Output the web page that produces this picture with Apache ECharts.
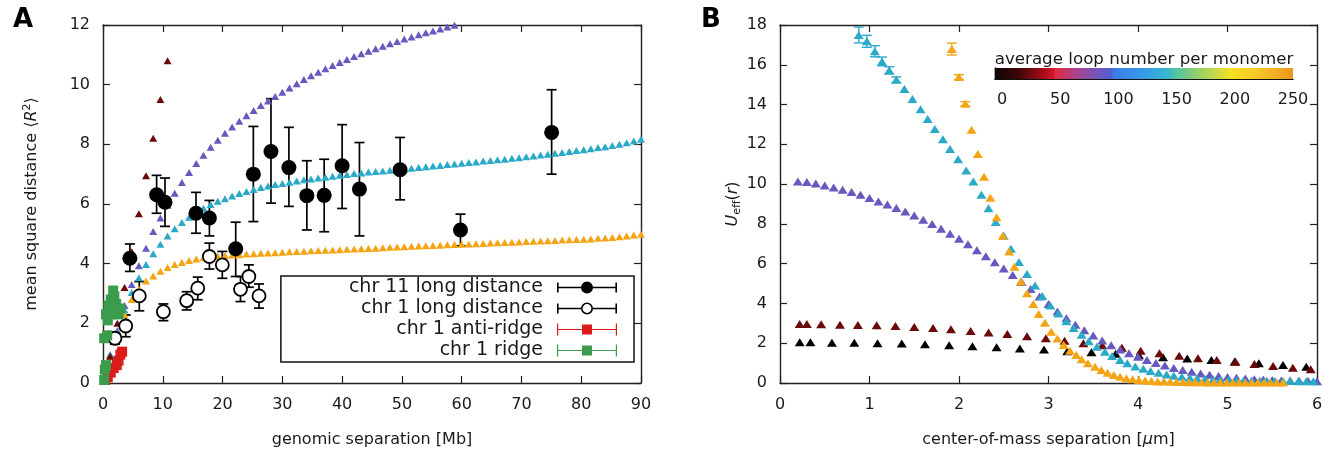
<!DOCTYPE html>
<html><head><meta charset="utf-8">
<script src="https://cdn.jsdelivr.net/npm/echarts@6.0.0/dist/echarts.min.js"></script>
<style>html,body{margin:0;padding:0;background:#fff}#c{width:1337px;height:450px}</style>
</head><body><div id="c"></div>
<script>
// ---------- Panel A: experimental data ----------
const chr11X  = [4.5, 8.97, 10.37, 15.56, 17.8, 22.2, 25.15, 28.1, 31.1, 34.1, 37.0, 40.0, 42.9, 49.7, 59.8, 75.05];
const chr11Y  = [4.18, 6.31, 6.06, 5.69, 5.53, 4.5, 7.0, 7.76, 7.22, 6.28, 6.29, 7.28, 6.5, 7.15, 5.13, 8.4];
const chr11Lo = [3.74, 5.69, 5.25, 5.02, 4.93, 3.57, 5.41, 6.03, 5.92, 5.13, 5.07, 5.85, 4.93, 6.14, 4.6, 7.0];
const chr11Hi = [4.66, 6.96, 6.87, 6.39, 6.12, 5.39, 8.6, 9.53, 8.57, 7.45, 7.5, 8.66, 8.06, 8.23, 5.66, 9.83];

const chr1X  = [2.0, 3.8, 6.07, 10.1, 14.0, 15.85, 17.8, 19.96, 23.0, 24.4, 26.1];
const chr1Y  = [1.5, 1.91, 2.92, 2.39, 2.76, 3.18, 4.24, 3.96, 3.14, 3.57, 2.92];
const chr1Lo = [1.3, 1.55, 2.42, 2.09, 2.45, 2.79, 3.82, 3.51, 2.73, 3.21, 2.51];
const chr1Hi = [1.7, 2.28, 3.4, 2.65, 3.06, 3.55, 4.69, 4.41, 3.57, 3.96, 3.32];

const antiRidgeX = [0.4, 0.8, 1.3, 1.8, 2.3, 2.6, 2.9, 3.2];
const antiRidgeY = [0.1, 0.2, 0.35, 0.5, 0.6, 0.75, 0.95, 1.05];

const ridgeX = [0.2, 0.3, 0.5, 0.2, 0.7, 0.5, 0.9, 1.3, 1.7, 1.9, 2.2, 2.6, 2.9, 1.5, 0.8, 1.1];
const ridgeY = [0.1, 0.45, 0.6, 1.5, 1.6, 2.3, 2.6, 2.8, 3.1, 2.9, 2.65, 2.3, 2.5, 2.3, 2.1, 2.45];

// ---------- Panel A: simulation (triangles) ----------
const simSepA = [1.2,2.4,3.6,4.8,6.0,7.2,8.4,9.6,10.8,12.0,13.2,14.4,15.6,16.8,18.0,19.2,20.4,21.6,22.8,24.0,25.2,26.4,27.6,28.8,30.0,31.2,32.4,33.6,34.8,36.0,37.2,38.4,39.6,40.8,42.0,43.2,44.4,45.6,46.8,48.0,49.2,50.4,51.6,52.8,54.0,55.2,56.4,57.6,58.8,60.0,61.2,62.4,63.6,64.8,66.0,67.2,68.4,69.6,70.8,72.0,73.2,74.4,75.6,76.8,78.0,79.2,80.4,81.6,82.8,84.0,85.2,86.4,87.6,88.8,90.0];
const simMaroonA = [0.9,2.0,3.2,4.4,5.67,6.95,8.2,9.5,10.8];
const simPurpleA = [0.95,1.75,2.6,3.3,3.93,4.52,5.08,5.53,5.96,6.36,6.72,7.06,7.36,7.63,7.9,8.14,8.37,8.58,8.77,8.96,9.13,9.3,9.45,9.6,9.75,9.89,10.03,10.17,10.3,10.42,10.53,10.64,10.74,10.84,10.94,11.04,11.12,11.2,11.29,11.37,11.45,11.53,11.6,11.67,11.74,11.8,11.87,11.93,11.99];
const simCyanA = [0.95,1.7,2.45,3.03,3.53,3.97,4.33,4.65,4.93,5.17,5.38,5.56,5.72,5.86,5.98,6.09,6.18,6.27,6.35,6.42,6.49,6.55,6.6,6.65,6.69,6.73,6.77,6.81,6.84,6.87,6.9,6.93,6.96,6.99,7.02,7.04,7.07,7.09,7.11,7.13,7.15,7.17,7.2,7.22,7.25,7.27,7.29,7.32,7.34,7.37,7.39,7.41,7.44,7.46,7.48,7.5,7.53,7.55,7.58,7.61,7.64,7.67,7.7,7.73,7.76,7.79,7.82,7.85,7.89,7.92,7.96,8.0,8.05,8.11,8.17];
const simOrangeA = [0.88,1.6,2.3,2.8,3.15,3.42,3.59,3.75,3.87,3.97,4.04,4.11,4.16,4.2,4.23,4.25,4.27,4.29,4.3,4.32,4.33,4.35,4.36,4.37,4.38,4.4,4.41,4.42,4.43,4.44,4.45,4.46,4.47,4.48,4.49,4.5,4.51,4.52,4.53,4.55,4.56,4.57,4.58,4.59,4.6,4.61,4.62,4.63,4.64,4.65,4.66,4.67,4.68,4.69,4.7,4.71,4.72,4.73,4.74,4.75,4.76,4.77,4.78,4.79,4.8,4.81,4.82,4.83,4.85,4.86,4.88,4.9,4.93,4.96,4.99];

// ---------- Panel B: effective potential ----------
const blackBx = [0.22,0.34,0.58,0.83,1.09,1.36,1.62,1.89,2.15,2.42,2.68,2.95,3.21,3.48,3.75,4.01,4.28,4.55,4.82,5.08,5.35,5.62,5.88];
const blackBy = [2.05,2.05,2.03,2.02,2.0,1.98,1.95,1.9,1.85,1.8,1.73,1.68,1.6,1.54,1.47,1.4,1.3,1.23,1.16,1.08,0.99,0.9,0.82];
const maroonBx = [0.22,0.30,0.46,0.67,0.87,1.08,1.29,1.50,1.71,1.91,2.13,2.33,2.54,2.76,2.97,3.18,3.39,3.60,3.82,4.03,4.24,4.46,4.67,4.88,5.09,5.30,5.51,5.73,5.93];
const maroonBy = [2.97,2.97,2.95,2.93,2.92,2.9,2.86,2.81,2.76,2.7,2.62,2.54,2.46,2.35,2.25,2.12,2.0,1.9,1.77,1.62,1.5,1.37,1.25,1.16,1.07,0.95,0.86,0.77,0.69];
const purpleBx = [0.2,0.3,0.4,0.5,0.6,0.7,0.8,0.9,1.0,1.1,1.2,1.3,1.4,1.5,1.6,1.7,1.8,1.9,2.0,2.1,2.2,2.3,2.4,2.5,2.6,2.7,2.8,2.9,3.0,3.1,3.2,3.3,3.4,3.5,3.6,3.7,3.8,3.9,4.0,4.1,4.2,4.3,4.4,4.5,4.6,4.7,4.8,4.9,5.0,5.1,5.2,5.3,5.4,5.5,5.6,5.7,5.8,5.9,6.0];
const purpleBy = [10.13,10.1,10.03,9.93,9.83,9.72,9.6,9.46,9.3,9.13,8.97,8.8,8.62,8.42,8.21,7.99,7.76,7.51,7.25,6.97,6.68,6.37,6.07,5.76,5.43,5.08,4.72,4.35,3.97,3.6,3.25,2.93,2.65,2.39,2.14,1.9,1.68,1.49,1.32,1.16,1.01,0.88,0.76,0.65,0.56,0.48,0.41,0.35,0.3,0.26,0.22,0.19,0.17,0.15,0.13,0.12,0.11,0.1,0.09];
const cyanBx = [0.88,0.97,1.06,1.14,1.22,1.30,1.39,1.48,1.57,1.65,1.73,1.82,1.90,1.99,2.08,2.16,2.25,2.33,2.41,2.50,2.58,2.67,2.76,2.85,2.93,3.02,3.11,3.20,3.28,3.37,3.45,3.54,3.63,3.71,3.80,3.88,3.97,4.06,4.14,4.23,4.32,4.40,4.49,4.58,4.66,4.75,4.84,4.92,5.01,5.10,5.18,5.27,5.36,5.44,5.53,5.62,5.70,5.79,5.88,5.96];
const cyanBy = [17.5,17.18,16.68,16.17,15.72,15.25,14.78,14.28,13.77,13.27,12.77,12.26,11.76,11.25,10.68,10.13,9.46,8.79,8.1,7.4,6.75,6.08,5.48,4.9,4.38,3.9,3.5,3.1,2.76,2.42,2.1,1.82,1.57,1.36,1.16,0.99,0.83,0.72,0.6,0.51,0.43,0.36,0.31,0.27,0.24,0.21,0.19,0.17,0.15,0.14,0.13,0.12,0.11,0.11,0.1,0.1,0.1,0.09,0.09,0.09];
const cyanBerr = [0.4,0.3,0.28,0.22,0.18,0.14];
const orangeBx = [1.92,2.00,2.07,2.14,2.21,2.28,2.35,2.42,2.49,2.56,2.62,2.69,2.76,2.83,2.89,2.96,3.03,3.10,3.17,3.24,3.31,3.37,3.44,3.52,3.59,3.66,3.73,3.80,3.87,3.94,4.01,4.08,4.15,4.22,4.29,4.36,4.43,4.50,4.57,4.64,4.71,4.78,4.85,4.92,4.99,5.06,5.13,5.20,5.27,5.34,5.41,5.48,5.55,5.62];
const orangeBy = [16.79,15.38,14.04,12.73,11.52,10.37,9.31,8.34,7.4,6.61,5.85,5.1,4.51,3.97,3.47,3.03,2.58,2.24,1.91,1.62,1.41,1.19,0.99,0.82,0.65,0.52,0.4,0.32,0.24,0.19,0.15,0.12,0.1,0.08,0.07,0.06,0.05,0.05,0.04,0.04,0.04,0.03,0.03,0.03,0.03,0.03,0.03,0.02,0.02,0.02,0.02,0.02,0.02,0.02];
const orangeBerr = [0.3,0.12,0.1];

// ---------- Colour bar ----------
const cbRange = [0, 256];
const cbStops = [[0,'#0d0505'],[20,'#3d0608'],[40,'#a00c18'],[50,'#d4142a'],[52,'#e02a40'],[75,'#9a4aa0'],[100,'#5060d0'],[102,'#3a7ce8'],[125,'#3898e8'],[150,'#38b8d0'],[152,'#48c0b0'],[175,'#98d068'],[200,'#e8e030'],[202,'#f8e020'],[225,'#f8c828'],[250,'#f0a020'],[256,'#ec9418']];

const C = {maroon:'#6b0a0a', purple:'#6659c0', cyan:'#2ba9c8', orange:'#f4a516', red:'#dc1c1c', green:'#3c9c4e'};
const FONT = 'DejaVu Sans';
const TXT = '#1a1a1a';

const zip = (xs, ys) => ys.map((y, i) => [xs[i], y]);
const zipErr = (xs, ys, lo, hi) => lo.map((l, i) => [xs[i], ys[i], l, hi[i]]);
const zipSym = (xs, ys, e) => e.map((v, i) => [xs[i], ys[i], ys[i] - v, ys[i] + v]);

function errRender(capW, lw) {
  return function (params, api) {
    const x = api.value(0), lo = api.value(2), hi = api.value(3);
    const a = api.coord([x, lo]), b = api.coord([x, hi]);
    const st = {stroke: api.visual('color'), lineWidth: lw, fill: null};
    return {type: 'group', children: [
      {type: 'line', shape: {x1: a[0], y1: a[1], x2: b[0], y2: b[1]}, style: st},
      {type: 'line', shape: {x1: a[0] - capW, y1: a[1], x2: a[0] + capW, y2: a[1]}, style: st},
      {type: 'line', shape: {x1: b[0] - capW, y1: b[1], x2: b[0] + capW, y2: b[1]}, style: st}
    ]};
  };
}

const ICON_FILLED = 'path://M0,1L1.6,1L1.6,11L0,11Z M58.4,1L60,1L60,11L58.4,11Z M0,5.2L24,5.2L24,6.8L0,6.8Z M36,5.2L60,5.2L60,6.8L36,6.8Z M24,6A6,6 0 1,1 36,6A6,6 0 1,1 24,6Z';
const ICON_OPEN = 'path://M0,1L1.6,1L1.6,11L0,11Z M58.4,1L60,1L60,11L58.4,11Z M0,5.2L24,5.2L24,6.8L0,6.8Z M36,5.2L60,5.2L60,6.8L36,6.8Z M24,6A6,6 0 1,1 36,6A6,6 0 1,1 24,6Z M25.6,6A4.4,4.4 0 1,0 34.4,6A4.4,4.4 0 1,0 25.6,6Z';
const ICON_SQ = 'path://M0,0L1.2,0L1.2,12L0,12Z M58.8,0L60,0L60,12L58.8,12Z M0,5.4L25,5.4L25,6.6L0,6.6Z M35,5.4L60,5.4L60,6.6L35,6.6Z M25,1L35,1L35,11L25,11Z';

const axLine = {show: true, onZero: false, lineStyle: {color: '#222', width: 1.4}};
const tick = {show: true, inside: true, length: 7, lineStyle: {color: '#222', width: 1.2}};
const lbl = {fontFamily: FONT, fontSize: 16, color: TXT};

function mainX(grid, min, max, interval, name, nameRich) {
  return {type: 'value', gridIndex: grid, position: 'bottom', min, max, interval,
    axisLine: axLine, axisTick: tick, splitLine: {show: false},
    axisLabel: Object.assign({margin: 14}, lbl),
    name, nameLocation: 'middle', nameGap: 49,
    nameTextStyle: {fontFamily: FONT, fontSize: 16, color: TXT, rich: nameRich || {}}};
}
function mirrorX(grid, min, max, interval) {
  return {type: 'value', gridIndex: grid, position: 'top', min, max, interval,
    axisLine: axLine, axisTick: tick, axisLabel: {show: false}, splitLine: {show: false}};
}
function mainY(grid, min, max, interval, name, gap, rich) {
  return {type: 'value', gridIndex: grid, position: 'left', min, max, interval,
    axisLine: axLine, axisTick: tick, splitLine: {show: false},
    axisLabel: Object.assign({margin: 13}, lbl),
    name, nameLocation: 'middle', nameGap: gap, nameRotate: 90,
    nameTextStyle: {fontFamily: FONT, fontSize: 16, color: TXT, rich}};
}
function mirrorY(grid, min, max, interval) {
  return {type: 'value', gridIndex: grid, position: 'right', min, max, interval,
    axisLine: axLine, axisTick: tick, axisLabel: {show: false}, splitLine: {show: false}};
}

const itS = {fontFamily: FONT, fontSize: 16, fontStyle: 'italic', color: TXT};
const supS = {fontFamily: FONT, fontSize: 11, color: TXT, padding: [0, 0, 9, 0]};
const subS = {fontFamily: FONT, fontSize: 11, color: TXT, padding: [9, 0, 0, 0]};

function tri(name, xs, ys, color, xi, size) {
  return {name, type: 'scatter', xAxisIndex: xi, yAxisIndex: xi, data: zip(xs, ys),
    symbol: 'triangle', symbolSize: size, itemStyle: {color, opacity: 1}, clip: false, silent: true};
}

const chart = echarts.init(document.getElementById('c'), null, {renderer: 'canvas'});
chart.setOption({
  animation: false,
  backgroundColor: '#fff',
  title: [
    {text: 'A', left: 8, top: 2, textStyle: {fontFamily: FONT, fontSize: 26, fontWeight: 'bold', color: '#000'}},
    {text: 'B', left: 696, top: 2, textStyle: {fontFamily: FONT, fontSize: 26, fontWeight: 'bold', color: '#000'}}
  ],
  grid: [
    {left: 103, top: 25, width: 538, height: 358, containLabel: false, outerBoundsMode: 'none'},
    {left: 780, top: 25, width: 537, height: 358, containLabel: false, outerBoundsMode: 'none'},
    {left: 995, top: 68, width: 298, height: 11, containLabel: false, outerBoundsMode: 'none'}
  ],
  xAxis: [
    mainX(0, 0, 90, 10, 'genomic separation [Mb]'),
    mirrorX(0, 0, 90, 10),
    mainX(1, 0, 6, 1, 'center-of-mass separation [{it|μ}m]', {it: itS}),
    mirrorX(1, 0, 6, 1),
    {type: 'value', gridIndex: 2, position: 'bottom', min: cbRange[0], max: cbRange[1], interval: 50,
      axisLine: {show: true, lineStyle: {color: '#111', width: 1.2}},
      axisTick: {show: true, inside: true, length: 11, lineStyle: {color: '#111', width: 1.4}},
      axisLabel: Object.assign({margin: 13, padding: [0, 0, 0, 14]}, lbl), splitLine: {show: false}},
    {type: 'value', gridIndex: 2, position: 'top', min: cbRange[0], max: cbRange[1],
      axisLine: {show: true, lineStyle: {color: '#111', width: 1.2}}, axisTick: {show: false},
      axisLabel: {show: false}, splitLine: {show: false},
      name: 'average loop number per monomer', nameLocation: 'middle', nameGap: 0,
      nameTextStyle: {fontFamily: FONT, fontSize: 16.7, color: TXT, verticalAlign: 'bottom'}}
  ],
  yAxis: [
    mainY(0, 0, 12, 2, 'mean square distance ⟨{it|R}{sup|2}⟩', 61, {it: itS, sup: supS}),
    mirrorY(0, 0, 12, 2),
    mainY(1, 0, 18, 2, '{it|U}{sub|eff}({it|r})', 37, {it: itS, sub: subS}),
    mirrorY(1, 0, 18, 2),
    {type: 'value', gridIndex: 2, position: 'left', min: 0, max: 1,
      axisLine: {show: true, lineStyle: {color: '#111', width: 1.2}}, axisTick: {show: false},
      axisLabel: {show: false}, splitLine: {show: false}},
    {type: 'value', gridIndex: 2, position: 'right', min: 0, max: 1,
      axisLine: {show: true, lineStyle: {color: '#111', width: 1.2}}, axisTick: {show: false},
      axisLabel: {show: false}, splitLine: {show: false}}
  ],
  legend: {
    show: true, orient: 'vertical', align: 'right', right: 703, top: 276,
    itemWidth: 60, itemHeight: 12, itemGap: 2, selectedMode: false,
    padding: [2, 17, 2, 68], borderColor: '#111', borderWidth: 1.5,
    textStyle: {fontFamily: FONT, fontSize: 19, color: TXT, padding: [0, 9, 0, 0]},
    data: [
      {name: 'chr 11 long distance', icon: ICON_FILLED, itemStyle: {color: '#000', borderWidth: 0, opacity: 1}},
      {name: 'chr 1 long distance', icon: ICON_OPEN, itemStyle: {color: '#000', borderWidth: 0, opacity: 1}},
      {name: 'chr 1 anti-ridge', icon: ICON_SQ, itemStyle: {color: C.red, borderWidth: 0, opacity: 1}},
      {name: 'chr 1 ridge', icon: ICON_SQ, itemStyle: {color: C.green, borderWidth: 0, opacity: 1}}
    ]
  },
  series: [
    // Panel A simulations
    tri('sim A purple', simSepA, simPurpleA, C.purple, 0, [8, 7]),
    tri('sim A cyan', simSepA, simCyanA, C.cyan, 0, [8, 7]),
    tri('sim A orange', simSepA, simOrangeA, C.orange, 0, [8, 7]),
    tri('sim A maroon', simSepA, simMaroonA, C.maroon, 0, [8, 7]),
    // Panel A error bars
    {name: 'chr 11 err', type: 'custom', xAxisIndex: 0, yAxisIndex: 0, renderItem: errRender(5, 1.7),
      data: zipErr(chr11X, chr11Y, chr11Lo, chr11Hi), itemStyle: {color: '#000'}, silent: true, encode: {x: 0, y: [1, 2, 3]}},
    {name: 'chr 1 err', type: 'custom', xAxisIndex: 0, yAxisIndex: 0, renderItem: errRender(5, 1.7),
      data: zipErr(chr1X, chr1Y, chr1Lo, chr1Hi), itemStyle: {color: '#000'}, silent: true, encode: {x: 0, y: [1, 2, 3]}},
    {name: 'chr 11 long distance', type: 'scatter', xAxisIndex: 0, yAxisIndex: 0, data: zip(chr11X, chr11Y),
      symbol: 'circle', symbolSize: 15, itemStyle: {color: '#000', opacity: 1}, clip: false, silent: true},
    {name: 'chr 1 long distance', type: 'scatter', xAxisIndex: 0, yAxisIndex: 0, data: zip(chr1X, chr1Y),
      symbol: 'circle', symbolSize: 13, itemStyle: {color: '#fff', borderColor: '#000', borderWidth: 1.8, opacity: 1}, clip: false, silent: true},
    {name: 'chr 1 anti-ridge', type: 'scatter', xAxisIndex: 0, yAxisIndex: 0, data: zip(antiRidgeX, antiRidgeY),
      symbol: 'rect', symbolSize: 10, itemStyle: {color: C.red, opacity: 1}, clip: false, silent: true},
    {name: 'chr 1 ridge', type: 'scatter', xAxisIndex: 0, yAxisIndex: 0, data: zip(ridgeX, ridgeY),
      symbol: 'rect', symbolSize: 10, itemStyle: {color: C.green, opacity: 1}, clip: false, silent: true},
    // Panel B
    {name: 'B cyan err', type: 'custom', xAxisIndex: 2, yAxisIndex: 2, renderItem: errRender(5, 1.4),
      data: zipSym(cyanBx, cyanBy, cyanBerr), itemStyle: {color: C.cyan}, silent: true, encode: {x: 0, y: [1, 2, 3]}},
    {name: 'B orange err', type: 'custom', xAxisIndex: 2, yAxisIndex: 2, renderItem: errRender(5, 1.4),
      data: zipSym(orangeBx, orangeBy, orangeBerr), itemStyle: {color: C.orange}, silent: true, encode: {x: 0, y: [1, 2, 3]}},
    tri('B black', blackBx, blackBy, '#000', 2, [10, 8]),
    tri('B maroon', maroonBx, maroonBy, C.maroon, 2, [10, 8]),
    tri('B purple', purpleBx, purpleBy, C.purple, 2, [10, 8]),
    tri('B cyan', cyanBx, cyanBy, C.cyan, 2, [10, 8]),
    tri('B orange', orangeBx, orangeBy, C.orange, 2, [10, 8]),
    // colour bar
    {name: 'colour bar', type: 'custom', xAxisIndex: 4, yAxisIndex: 4, silent: true, z: 1,
      data: [[cbRange[0], cbRange[1]]], encode: {x: [0, 1]},
      renderItem: function (params, api) {
        const p0 = api.coord([api.value(0), 0]), p1 = api.coord([api.value(1), 1]);
        const stops = cbStops.map(s => ({offset: (s[0] - cbRange[0]) / (cbRange[1] - cbRange[0]), color: s[1]}));
        return {type: 'rect', shape: {x: p0[0], y: p1[1], width: p1[0] - p0[0], height: p0[1] - p1[1]},
          style: {fill: new echarts.graphic.LinearGradient(0, 0, 1, 0, stops)}};
      }}
  ]
});
</script></body></html>
